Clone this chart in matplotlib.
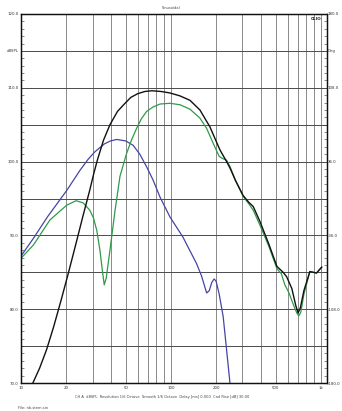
import matplotlib
matplotlib.use("Agg")
import matplotlib.pyplot as plt
from matplotlib.ticker import FixedLocator, MultipleLocator

# ---- data ----
black_f = [12.0, 13.3, 14.8, 16.5, 18.5, 20.7, 23.0, 25.8, 28.8, 30.5, 32.3, 35.5, 39.2, 44, 49.4,
           54, 60, 67, 74.6, 86, 98.5, 115, 134, 156, 182,
           212, 235, 248, 270, 303, 330, 354, 392, 450, 509, 560, 591, 640, 680, 705, 730, 770,
           844, 890, 935, 1013]
black_db = [70.0, 72.0, 74.5, 77.6, 81.2, 84.9, 88.5, 92.5, 96.2, 98.3, 100.2, 102.9, 105.0, 106.8,
            107.9, 108.7, 109.2, 109.5, 109.6, 109.5, 109.3, 108.9, 108.3,
            107.0, 104.7, 101.6, 100.0, 99.1, 97.4, 95.4, 94.5, 93.9, 91.9, 88.8, 85.8, 85.0, 84.4,
            82.8, 80.5, 79.5, 80.2, 82.5, 85.1, 85.0, 84.9, 85.7]

green_f = [10, 12.1, 15.6, 20.2, 23.3, 26, 28.8, 30.5, 32, 33.6, 35.0, 35.9, 37.0, 39.2, 42.4,
           45.7, 50.6, 54.5, 59, 63.5, 68.8, 76, 84.5, 98.5, 115, 134, 156, 173, 196, 210, 222, 235,
           248, 270, 303, 330, 354, 392, 450, 509, 545, 575, 610, 650, 690, 712, 735, 770, 844, 890,
           935, 1013]
green_db = [86.9, 88.7, 92.1, 94.1, 94.7, 94.4, 93.4, 92.3, 90.7, 88.0, 85.0, 83.3, 84.2, 88.0,
            93.4, 98.0, 101.1, 102.9, 104.5, 105.8, 106.8, 107.4, 107.8, 107.9, 107.7, 107.1,
            105.9, 104.5, 102.0, 100.7, 100.4, 100.2, 99.3, 97.4, 95.3, 94.3, 93.4, 91.4, 88.5,
            85.5, 84.8, 83.3, 82.3, 80.8, 79.5, 79.1, 79.6, 82.0, 85.1, 85.0, 84.9, 85.7]

blue_f = [10, 12.1, 15, 20.2, 24.7, 28, 31, 33.6, 36, 39.5, 43.5, 50, 56, 62, 68.8, 76, 84.5, 98.5,
          120, 148, 160, 173, 180, 187, 194, 200, 210, 223, 235, 247.5]
blue_db = [87.2, 89.6, 92.5, 96.1, 98.8, 100.3, 101.3, 101.9, 102.4, 102.8, 103.0, 102.8, 102.2,
           101.0, 99.3, 97.5, 95.2, 92.5, 89.8, 86.2, 84.5, 82.2, 82.5, 83.6, 84.1, 83.8, 82.0,
           79.0, 74.5, 70.0]

x_tick_vals = [10, 20, 50, 100, 200, 500, 1000]
x_tick_labels = ["10", "20", "50", "100", "200", "500", "1k"]
left_labels = {120: "120.0", 115: "dBSPL", 110: "110.0", 100: "100.0", 90: "90.0", 80: "80.0", 70: "70.0"}
right_labels = {120: "180.0", 115: "Deg", 110: "108.0", 100: "36.0", 90: "-36.0", 80: "-108.0", 70: "-180.0"}
title = "Sinusoidal"
footer = "CH A  dBSPL  Resolution 1/6 Octave  Smooth 1/6 Octave  Delay [ms] 0.000  Cnd Rise [dB] 30.00"
file_label = "File: nb-stem.sin"

# ---- figure ----
FS = 2.8
fig = plt.figure(figsize=(3.42, 4.11), dpi=100)
ax = fig.add_axes([21 / 342, 1 - 383 / 411, (326.5 - 21) / 342, (383 - 14) / 411])
ax.set_xscale("log")
ax.set_xlim(10, 1090)
ax.set_ylim(70, 120)

# grid lines
grid_x = list(range(20, 100, 10)) + list(range(100, 1001, 100))
for gx in grid_x:
    ax.axvline(gx, color="#8a8a8a", lw=0.7, zorder=1)
for gy in range(75, 120, 5):
    ax.axhline(gy, color="#4a4a4a", lw=0.7, zorder=1)

ax.plot(blue_f, blue_db, color="#4545a5", lw=0.9, zorder=3)
ax.plot(green_f, green_db, color="#2f9a4a", lw=0.9, zorder=3)
ax.plot(black_f, black_db, color="#111111", lw=1.0, zorder=4)

# x ticks
ax.xaxis.set_major_locator(FixedLocator(x_tick_vals))
ax.xaxis.set_minor_locator(FixedLocator([]))
ax.set_xticklabels(x_tick_labels)
ax.tick_params(axis="x", which="major", length=0, labelsize=FS, pad=2.5, colors="#333333")

# left y ticks
ax.yaxis.set_major_locator(FixedLocator(sorted(left_labels)))
ax.set_yticklabels([left_labels[k] for k in sorted(left_labels)])
ax.yaxis.set_minor_locator(MultipleLocator(1))
ax.tick_params(axis="y", which="major", length=0, labelsize=FS, pad=1.5, colors="#333333")
ax.tick_params(axis="y", which="minor", direction="in", length=2, width=0.4, color="#333333")

ax2 = ax.twinx()
ax2.set_ylim(70, 120)
ax2.yaxis.set_major_locator(FixedLocator(sorted(right_labels)))
ax2.set_yticklabels([right_labels[k] for k in sorted(right_labels)])
ax2.yaxis.set_minor_locator(MultipleLocator(1))
ax2.tick_params(axis="y", which="major", length=0, labelsize=FS, pad=1.0, colors="#333333")
ax2.tick_params(axis="y", which="minor", direction="in", length=2, width=0.4, color="#333333")

for a in (ax, ax2):
    for s in a.spines.values():
        s.set_color("#111111")
        s.set_linewidth(0.9)

ax.text(0.985, 0.992, "CLIO", transform=ax.transAxes, ha="right", va="top",
        fontsize=3.0, fontweight="bold", color="#222222", zorder=5)

fig.text(171 / 342, 1 - 8 / 411, title, ha="center", va="center", fontsize=2.6, color="#444444")
fig.text(162 / 342, 1 - 397 / 411, footer, ha="center", va="center", fontsize=2.6, color="#444444")
fig.text(18 / 342, 1 - 408 / 411, file_label, ha="left", va="center", fontsize=2.6, color="#444444")

fig.savefig("out.png", dpi=100)
